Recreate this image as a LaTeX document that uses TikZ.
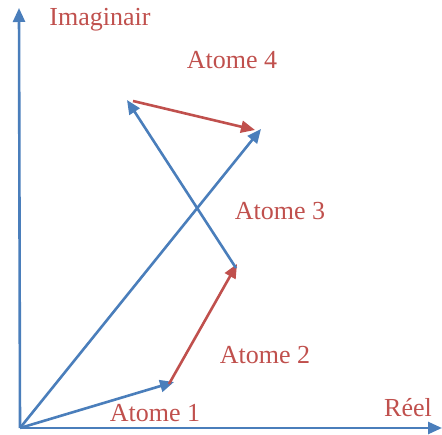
\documentclass[tikz,border=0pt]{standalone}
\usepackage{fontspec}
\setmainfont{Liberation Serif}
\usetikzlibrary{arrows.meta}
\definecolor{axisblue}{HTML}{4A7EBB}
\definecolor{atomred}{HTML}{C0504D}
\tikzset{
  vecline/.style={
    -{Triangle[length=14pt,width=12pt]}, line width=2.6pt, color=#1
  },
  vecline/.default=axisblue,
  atomlabel/.style={
    font=\fontsize{26}{30}\selectfont, color=atomred, inner sep=0pt
  },
}
\begin{document}
\begin{tikzpicture}[x=1pt,y=-1pt]
  \useasboundingbox (0,0) rectangle (442,435);
  % Axes
  \coordinate (O) at (20,428);
  \coordinate (ytip) at (19,8);
  \coordinate (xtip) at (442,428);
  \draw[vecline] (O) -- (ytip);
  \draw[vecline] (O) -- (xtip);

  % Vector ends
  \coordinate (a1) at (174,382);
  \coordinate (a2s) at (169,384);
  \coordinate (a2) at (237,264);
  \coordinate (a3s) at (236,268);
  \coordinate (a3) at (127,100);
  \coordinate (a4s) at (133,101);
  \coordinate (a4) at (255,130);
  \coordinate (res) at (261,129);

  % Atoms
  \draw[vecline] (O) -- (a1);
  \draw[vecline=atomred] (a2s) -- (a2);
  \draw[vecline] (a3s) -- (a3);
  \draw[vecline=atomred] (a4s) -- (a4);
  \draw[vecline] (O) -- (res);

  % Labels
  \node[atomlabel] (imag) at (100,20) {Imaginair};
  \node[atomlabel] (reel) at (408,408) {Réel};
  \node[atomlabel] (t1) at (155,413) {Atome 1};
  \node[atomlabel] (t2) at (265,355) {Atome 2};
  \node[atomlabel] (t3) at (280,211) {Atome 3};
  \node[atomlabel] (t4) at (232,60) {Atome 4};
\end{tikzpicture}
\end{document}
